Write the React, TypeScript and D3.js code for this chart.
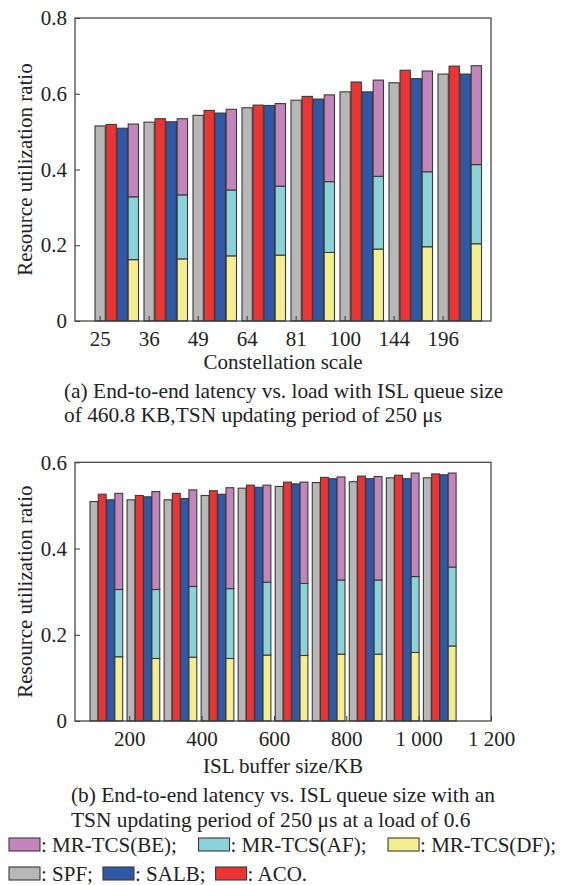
import { useEffect, useRef } from 'react';
import * as d3 from 'd3';

const width = 561;
const height = 885;
const font = '"Liberation Serif", "Times New Roman", serif';

// (a) constellation scale
const scaleCats = ['25', '36', '49', '64', '81', '100', '144', '196'];
const spfA = [0.515, 0.525, 0.543, 0.563, 0.583, 0.605, 0.629, 0.652];
const acoA = [0.519, 0.534, 0.556, 0.57, 0.593, 0.631, 0.662, 0.673];
const salbA = [0.509, 0.526, 0.549, 0.569, 0.586, 0.605, 0.64, 0.652];
const dfA = [0.162, 0.164, 0.172, 0.174, 0.181, 0.19, 0.196, 0.204];
const afA = [0.166, 0.169, 0.174, 0.182, 0.187, 0.192, 0.198, 0.209];
const beA = [0.192, 0.201, 0.213, 0.218, 0.229, 0.254, 0.266, 0.261];

// (b) ISL buffer size
const bufferCats = ['100', '200', '300', '400', '500', '600', '700', '800', '900', '1000'];
const spfB = [0.509, 0.513, 0.513, 0.523, 0.54, 0.544, 0.553, 0.555, 0.564, 0.564];
const acoB = [0.526, 0.523, 0.528, 0.534, 0.547, 0.554, 0.565, 0.568, 0.57, 0.573];
const salbB = [0.513, 0.52, 0.516, 0.526, 0.542, 0.55, 0.562, 0.562, 0.562, 0.571];
const dfB = [0.149, 0.145, 0.148, 0.145, 0.153, 0.152, 0.155, 0.155, 0.159, 0.174];
const afB = [0.156, 0.16, 0.164, 0.162, 0.169, 0.167, 0.172, 0.172, 0.176, 0.183];
const beB = [0.223, 0.227, 0.224, 0.234, 0.225, 0.235, 0.239, 0.24, 0.24, 0.218];
const bufferTicks = [200, 400, 600, 800, 1000, 1200];
const bufferTickLabels = ['200', '400', '600', '800', '1 000', '1 200'];

const yTicksA = [0, 0.2, 0.4, 0.6, 0.8];
const yTicksB = [0, 0.2, 0.4, 0.6];

const colors: Record<string, string> = {
    SPF: '#b7b7b7',
    ACO: '#ee3432',
    SALB: '#2f58a6',
    BE: '#c386bc',
    AF: '#8bd3d9',
    DF: '#f3ef8e'
};

const legendRows = [
    [
        { key: 'BE', label: ': MR-TCS(BE);' },
        { key: 'AF', label: ': MR-TCS(AF);' },
        { key: 'DF', label: ': MR-TCS(DF);' }
    ],
    [
        { key: 'SPF', label: ': SPF;' },
        { key: 'SALB', label: ': SALB;' },
        { key: 'ACO', label: ': ACO.' }
    ]
];

const ink = '#222';
const edge = '#3a3a3a';

function drawPanel(svg: any, p: any) {
    const g = svg.append('g');
    const y = d3.scaleLinear().domain([0, p.yMax]).range([p.bottom, p.top]);

    const x0 = d3
        .scaleBand()
        .domain(p.cats)
        .range(p.groupRange)
        .paddingInner(p.groupPad)
        .paddingOuter(0);
    const x1 = d3
        .scaleBand()
        .domain(['SPF', 'ACO', 'SALB', 'MRTCS'])
        .range([0, x0.bandwidth()])
        .paddingInner(p.innerPad);

    const rows = p.cats.map((c: string, i: number) => ({
        cat: c,
        SPF: p.spf[i],
        ACO: p.aco[i],
        SALB: p.salb[i],
        DF: p.df[i],
        AF: p.af[i],
        BE: p.be[i]
    }));

    // plain bars
    ['SPF', 'ACO', 'SALB'].forEach((k) => {
        g.append('g')
            .selectAll('rect')
            .data(rows)
            .join('rect')
            .attr('x', (d: any) => x0(d.cat)! + x1(k)!)
            .attr('y', (d: any) => y(d[k]))
            .attr('width', x1.bandwidth())
            .attr('height', (d: any) => y(0) - y(d[k]))
            .attr('fill', colors[k])
            .attr('stroke', edge)
            .attr('stroke-width', 1.1);
    });

    // stacked MR-TCS
    const stacked = d3.stack().keys(['DF', 'AF', 'BE'])(rows as any);
    g.append('g')
        .selectAll('g')
        .data(stacked)
        .join('g')
        .attr('fill', (s: any) => colors[s.key])
        .selectAll('rect')
        .data((s: any) => s)
        .join('rect')
        .attr('x', (d: any) => x0(d.data.cat)! + x1('MRTCS')!)
        .attr('y', (d: any) => y(d[1]))
        .attr('width', x1.bandwidth())
        .attr('height', (d: any) => y(d[0]) - y(d[1]))
        .attr('stroke', edge)
        .attr('stroke-width', 1.1);

    // y axis
    g.append('g')
        .attr('transform', `translate(${p.left},0)`)
        .call(
            d3
                .axisLeft(y)
                .tickValues(p.yTicks)
                .tickFormat((d: any) => (d === 0 ? '0' : d3.format('.1f')(d)))
                .tickSizeInner(-5)
                .tickSizeOuter(0)
                .tickPadding(8)
        )
        .attr('font-size', 21)
        .attr('font-family', font)
        .call((a: any) => a.select('.domain').remove())
        .call((a: any) => a.selectAll('line').attr('stroke', edge))
        .call((a: any) => a.selectAll('text').attr('fill', ink));

    // frame
    g.append('rect')
        .attr('x', p.left)
        .attr('y', p.top)
        .attr('width', p.right - p.left)
        .attr('height', p.bottom - p.top)
        .attr('fill', 'none')
        .attr('stroke', edge)
        .attr('stroke-width', 1.2);

    // y title
    g.append('text')
        .attr('transform', `translate(32,${(p.top + p.bottom) / 2}) rotate(-90)`)
        .attr('text-anchor', 'middle')
        .attr('font-size', 21)
        .attr('fill', ink)
        .text('Resource utilization ratio');

    return { g, x0, x1, y };
}

export default function App() {
    const ref = useRef<SVGSVGElement>(null);

    useEffect(() => {
        const svg = d3.select(ref.current);
        svg.selectAll('*').remove();

        // ---------- (a) ----------
        const a = drawPanel(svg, {
            top: 18,
            bottom: 321,
            left: 75,
            right: 491,
            yMax: 0.8,
            yTicks: yTicksA,
            cats: scaleCats,
            spf: spfA,
            aco: acoA,
            salb: salbA,
            df: dfA,
            af: afA,
            be: beA,
            groupRange: [95, 481.5],
            groupPad: 0.112,
            innerPad: 0.07
        });
        // ticks sit on the SPF bar of each group
        const offA = a.x1('SPF')! + a.x1.bandwidth() / 2 - a.x0.bandwidth() / 2;
        a.g.append('g')
            .attr('transform', `translate(${offA},321)`)
            .call(d3.axisBottom(a.x0).tickSizeInner(-5).tickSizeOuter(0).tickPadding(10))
            .attr('font-size', 21)
            .attr('font-family', font)
            .call((ax: any) => ax.select('.domain').remove())
            .call((ax: any) => ax.selectAll('line').attr('stroke', edge))
            .call((ax: any) => ax.selectAll('text').attr('fill', ink));
        a.g.append('text')
            .attr('x', 283)
            .attr('y', 369)
            .attr('text-anchor', 'middle')
            .attr('font-size', 21)
            .attr('fill', ink)
            .text('Constellation scale');
        const capA = ['(a) End-to-end latency vs. load with ISL queue size', 'of 460.8 KB,TSN updating period of 250 μs'];
        capA.forEach((t, i) => {
            a.g.append('text')
                .attr('x', 64)
                .attr('y', 398 + i * 24)
                .attr('font-size', 21.4)
                .attr('fill', ink)
                .text(t);
        });

        // ---------- (b) ----------
        const b = drawPanel(svg, {
            top: 462.3,
            bottom: 721,
            left: 75,
            right: 491,
            yMax: 0.6,
            yTicks: yTicksB,
            cats: bufferCats,
            spf: spfB,
            aco: acoB,
            salb: salbB,
            df: dfB,
            af: afB,
            be: beB,
            groupRange: [90, 456.1],
            groupPad: 0.117,
            innerPad: 0.05
        });
        const xB = d3.scaleLinear().domain([50, 1200]).range([75, 491]);
        b.g.append('g')
            .attr('transform', 'translate(0,721)')
            .call(
                d3
                    .axisBottom(xB)
                    .tickValues(bufferTicks)
                    .tickFormat((_d: any, i: number) => bufferTickLabels[i])
                    .tickSizeInner(-5)
                    .tickSizeOuter(0)
                    .tickPadding(10)
            )
            .attr('font-size', 21)
            .attr('font-family', font)
            .call((ax: any) => ax.select('.domain').remove())
            .call((ax: any) => ax.selectAll('line').attr('stroke', edge))
            .call((ax: any) => ax.selectAll('text').attr('fill', ink));
        b.g.append('text')
            .attr('x', 283)
            .attr('y', 773)
            .attr('text-anchor', 'middle')
            .attr('font-size', 21)
            .attr('fill', ink)
            .text('ISL buffer size/KB');
        const capB = ['(b) End-to-end latency vs. ISL queue size with an', 'TSN updating period of 250 μs at a load of 0.6'];
        capB.forEach((t, i) => {
            b.g.append('text')
                .attr('x', 71)
                .attr('y', 802 + i * 25)
                .attr('font-size', 21.4)
                .attr('fill', ink)
                .text(t);
        });

        // ---------- legend ----------
        const legend = svg.append('g');
        legendRows.forEach((row, ri) => {
            const base = 852 + ri * 29;
            const texts = row.map((item) =>
                legend.append('text').attr('y', base).attr('font-size', 21).attr('fill', ink).text(item.label)
            );
            const widths = texts.map((t) => (t.node() as SVGTextElement).getComputedTextLength());
            // first row is stretched to the full line, second keeps normal spacing
            const gap = ri === 0 ? (556 - 9 - 3 * 32 - d3.sum(widths)) / 2 : 10;
            let cx = 9;
            row.forEach((item, i) => {
                legend
                    .append('rect')
                    .attr('x', cx)
                    .attr('y', base - 14)
                    .attr('width', 31)
                    .attr('height', 13)
                    .attr('fill', colors[item.key])
                    .attr('stroke', edge)
                    .attr('stroke-width', 1.1);
                texts[i].attr('x', cx + 32);
                cx += 32 + widths[i] + gap;
            });
        });
    }, []);

    return (
        <svg
            ref={ref}
            width={width}
            height={height}
            fontFamily={font}
            style={{ position: 'absolute', left: 0, top: 0, background: '#fff' }}
        />
    );
}
